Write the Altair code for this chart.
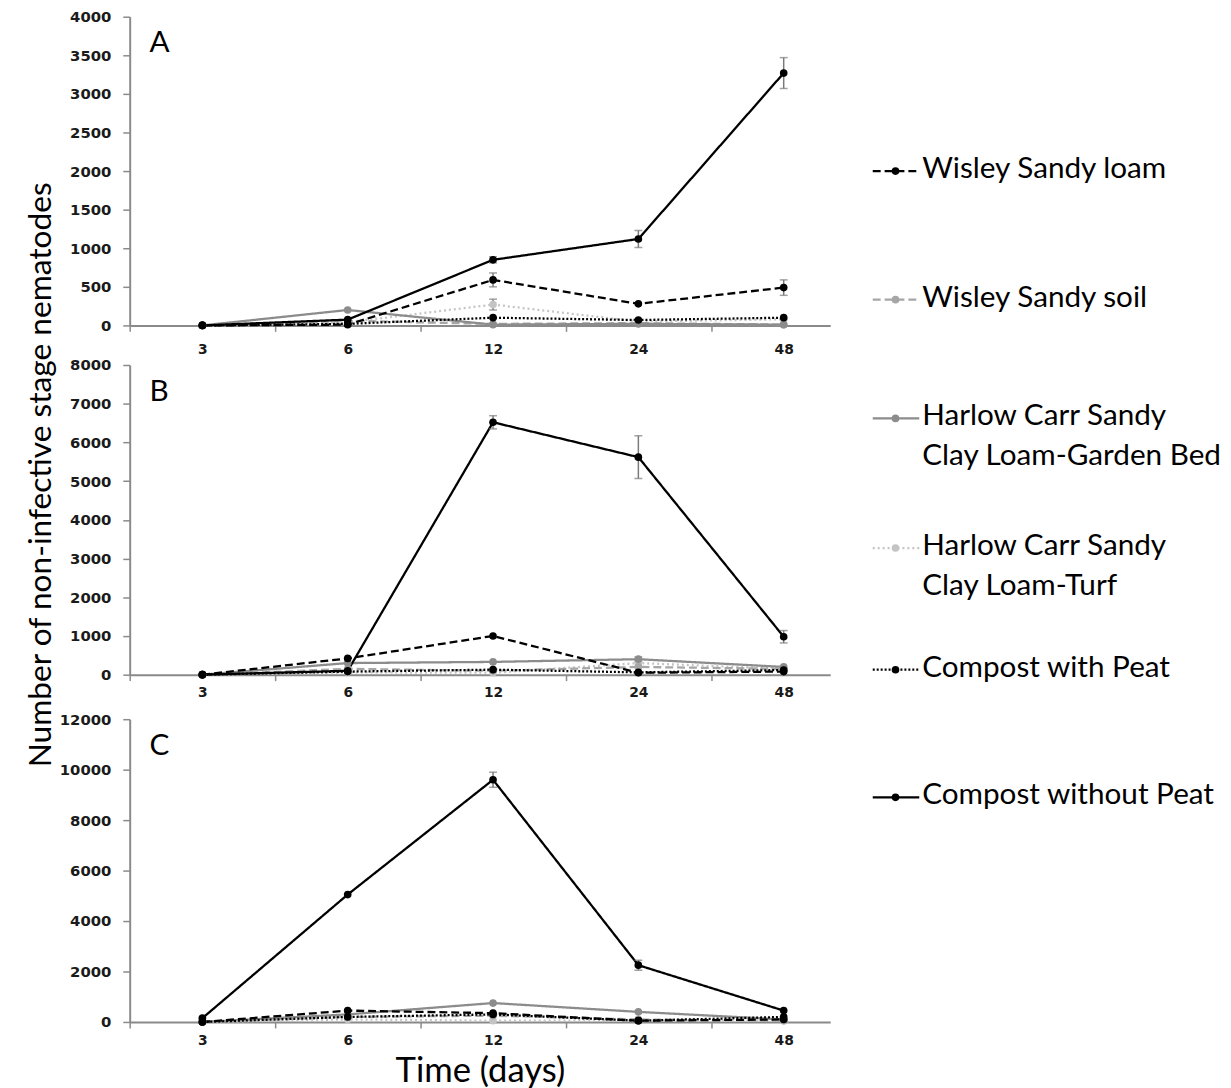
import altair as alt
import pandas as pd

# ---------------- data ----------------
days = ["3", "6", "12", "24", "48"]

series_order = [
    "Wisley Sandy loam",
    "Wisley Sandy soil",
    "Harlow Carr Sandy Clay Loam-Garden Bed",
    "Harlow Carr Sandy Clay Loam-Turf",
    "Compost with Peat",
    "Compost without Peat",
]
legend_text = [
    "Wisley Sandy loam",
    "Wisley Sandy soil",
    "Harlow Carr Sandy\nClay Loam-Garden Bed",
    "Harlow Carr Sandy\nClay Loam-Turf",
    "Compost with Peat",
    "Compost without Peat",
]

# Panel A
a_loam = [0, 10, 590, 280, 490]
a_soil = [0, 60, 20, 30, 10]
a_bed = [0, 200, 10, 20, 10]
a_turf = [0, 40, 270, 50, 80]
a_peat = [0, 20, 100, 70, 100]
a_nopeat = [0, 75, 850, 1120, 3270]
a_loam_err = [0, 0, 90, 0, 100]
a_turf_err = [0, 0, 70, 0, 0]
a_nopeat_err = [0, 0, 40, 110, 200]

# Panel B
b_loam = [0, 420, 1000, 50, 80]
b_soil = [0, 150, 100, 200, 150]
b_bed = [0, 300, 330, 400, 200]
b_turf = [0, 60, 50, 300, 150]
b_peat = [0, 80, 130, 60, 120]
b_nopeat = [0, 100, 6520, 5620, 980]
b_bed_err = [0, 0, 0, 60, 0]
b_nopeat_err = [0, 0, 170, 550, 160]

# Panel C
c_loam = [0, 450, 350, 50, 100]
c_soil = [0, 200, 250, 100, 50]
c_bed = [0, 300, 750, 400, 100]
c_turf = [0, 100, 50, 50, 50]
c_peat = [0, 200, 300, 50, 200]
c_nopeat = [150, 5050, 9600, 2250, 450]
c_nopeat_err = [0, 0, 300, 200, 0]

a_ticks = [0, 500, 1000, 1500, 2000, 2500, 3000, 3500, 4000]
b_ticks = [0, 1000, 2000, 3000, 4000, 5000, 6000, 7000, 8000]
c_ticks = [0, 2000, 4000, 6000, 8000, 10000, 12000]

# ---------------- styles ----------------
colors = ["#000000", "#a6a6a6", "#8c8c8c", "#c4c4c4", "#000000", "#000000"]
dashes = [[8, 4], [8, 4], [1, 0], [2, 3], [2, 2], [1, 0]]
legend_pos = [156, 286, 406, 537, 660, 789]   # legend row positions (px)
AXIS_GRAY = "#8a8a8a"
TITLE_FONT = "Lato"
TICK_FONT = "DejaVu Sans"
W = 708
zero5 = [0, 0, 0, 0, 0]


def build_df(vals, errs):
    rows = []
    draw_order = [3, 1, 2, 4, 0, 5]   # light series first, black ones on top
    for k in draw_order:
        name = series_order[k]
        for i, d in enumerate(days):
            v = vals[k][i]
            e = errs[k][i]
            rows.append({"series": name, "idx": i, "day": d, "value": v,
                         "err": e, "lo": max(v - e, 0), "hi": v + e})
    return pd.DataFrame(rows)


dfA = build_df([a_loam, a_soil, a_bed, a_turf, a_peat, a_nopeat],
               [a_loam_err, zero5, zero5, a_turf_err, zero5, a_nopeat_err])
dfB = build_df([b_loam, b_soil, b_bed, b_turf, b_peat, b_nopeat],
               [zero5, zero5, b_bed_err, zero5, zero5, b_nopeat_err])
dfC = build_df([c_loam, c_soil, c_bed, c_turf, c_peat, c_nopeat],
               [zero5, zero5, zero5, zero5, zero5, c_nopeat_err])

label_expr = "[" + ",".join("'" + d + "'" for d in days) + "][round(datum.value + 0.5)]"
color_scale = alt.Scale(domain=series_order, range=colors)
dash_scale = alt.Scale(domain=series_order, range=dashes)


def panel(df, ymax, yticks, letter, height, xpad, xtitle=False, pad_title=False):
    x_axis_kw = dict(values=[-0.5, 0.5, 1.5, 2.5, 3.5], labelExpr=label_expr,
                     labelOffset=W / 4.82 / 2, labelFlush=False, labelOverlap=False,
                     grid=False, domainColor=AXIS_GRAY, domainWidth=2,
                     tickColor=AXIS_GRAY, tickSize=6, tickWidth=1.5,
                     labelFont=TICK_FONT, labelFontWeight="bold", labelFontSize=14,
                     labelColor="#1a1a1a", labelPadding=xpad)
    if xtitle:
        x_axis_kw.update(title="Time (days)", titleFont=TITLE_FONT, titleFontSize=35,
                         titleFontWeight="normal", titleColor="#000000", titlePadding=6)
    else:
        x_axis_kw.update(title=None)
    y_axis = alt.Axis(values=yticks, format="d", grid=False, domainColor=AXIS_GRAY,
                      domainWidth=2, tickColor=AXIS_GRAY, tickSize=7, tickWidth=1.5,
                      labelFont=TICK_FONT, labelFontWeight="bold", labelFontSize=15,
                      labelColor="#1a1a1a", labelPadding=12, labelOverlap=False,
                      labelFlush=False, title=None)
    y_scale = alt.Scale(domain=[0, ymax], nice=False)

    x = alt.X("idx:Q", scale=alt.Scale(domain=[-0.5, 4.32], nice=False, zero=False),
              axis=alt.Axis(**x_axis_kw))
    y = alt.Y("value:Q", scale=y_scale, axis=y_axis)
    y_lo = alt.Y("lo:Q", scale=y_scale, axis=y_axis)
    y_hi = alt.Y("hi:Q", scale=y_scale, axis=y_axis)
    color = alt.Color("series:N", scale=color_scale, legend=None)
    dash = alt.StrokeDash("series:N", scale=dash_scale, legend=None)

    base = alt.Chart(df)
    lines = base.mark_line(strokeWidth=2.3).encode(x=x, y=y, color=color, strokeDash=dash,
                                                    detail="series:N")
    pts = base.mark_circle(size=60, opacity=1).encode(x=x, y=y, color=color)
    errdf = base.transform_filter("datum.err > 0")
    err_rule = errdf.mark_rule(color="#7a7a7a", strokeWidth=1.5).encode(
        x=x, y=y_lo, y2="hi:Q")
    cap_lo = errdf.mark_tick(color="#7a7a7a", orient="horizontal", size=8,
                             thickness=1.5).encode(x=x, y=y_lo)
    cap_hi = errdf.mark_tick(color="#7a7a7a", orient="horizontal", size=8,
                             thickness=1.5).encode(x=x, y=y_hi)
    letter_chart = alt.Chart(pd.DataFrame({"t": [letter]})).mark_text(
        align="left", baseline="middle", font=TITLE_FONT, fontSize=30, color="#000000"
    ).encode(text="t:N", x=alt.value(20), y=alt.value(27))
    props = dict(width=W, height=height)
    if pad_title:
        props["title"] = alt.TitleParams(text=" ", fontSize=11, offset=0)
    return alt.layer(lines, err_rule, cap_lo, cap_hi, pts, letter_chart).properties(**props)


pA = panel(dfA, 4000, a_ticks, "A", 312, 11)
pB = panel(dfB, 8000, b_ticks, "B", 313, 5)
pC = panel(dfC, 12000, c_ticks, "C", 306, 6, xtitle=True, pad_title=True)

left = alt.vconcat(pA, pB, pC, spacing=0)

# ---------------- y title ----------------
ytitle = alt.Chart(pd.DataFrame({"t": ["Number of non-infective stage nematodes"]})).mark_text(
    angle=270, align="center", baseline="middle", font=TITLE_FONT, fontSize=32,
    color="#000000"
).encode(text="t:N", x=alt.value(19), y=alt.value(463)).properties(width=36, height=1000)

# ---------------- legend ----------------
leg_df = pd.DataFrame({"series": series_order, "label": legend_text})
leg_color = alt.Color("series:N", scale=color_scale, legend=None)
leg_dash = alt.StrokeDash("series:N", scale=dash_scale, legend=None)
leg_layers = []
for k, name in enumerate(series_order):
    b = alt.Chart(leg_df).transform_filter(alt.datum.series == name)
    yv = alt.value(legend_pos[k])
    leg_layers.append(b.mark_rule(strokeWidth=2.3).encode(
        x=alt.value(41), x2=alt.value(88), y=yv, color=leg_color, strokeDash=leg_dash))
    leg_layers.append(b.mark_circle(size=60, opacity=1).encode(
        x=alt.value(64), y=yv, color=leg_color))
    leg_layers.append(b.mark_text(align="left", baseline="top", dy=-17, font=TITLE_FONT,
                                  fontSize=30, lineBreak="\n", lineHeight=40,
                                  color="#000000").encode(
        x=alt.value(91), y=yv, text="label:N"))
legend = alt.layer(*leg_layers).properties(width=350, height=1000)

chart = alt.hconcat(ytitle, left, legend, spacing=0).properties(
    padding={"left": 13, "top": -5, "right": 0, "bottom": 0},
    background="#ffffff"
).configure_view(stroke="transparent")

chart.save("out.html", embed_options={"renderer": "svg", "actions": False})
